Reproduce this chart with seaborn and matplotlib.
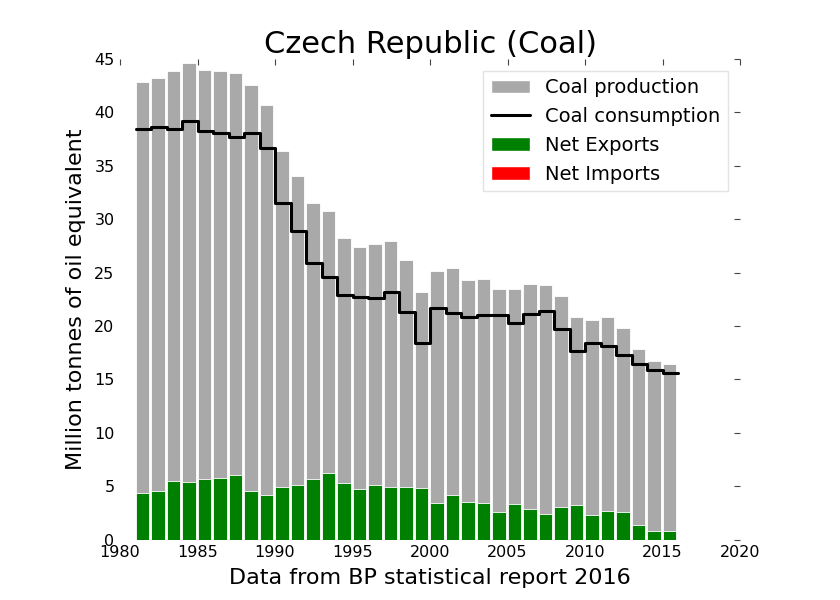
import matplotlib
matplotlib.use("Agg")
import matplotlib.pyplot as plt
import seaborn as sns
import pandas as pd
from matplotlib.patches import Patch
from matplotlib.lines import Line2D

years = list(range(1981, 2016))
production = [42.8, 43.2, 43.9, 44.6, 44.0, 43.9, 43.7, 42.6, 40.7, 36.4,
              34.0, 31.5, 30.8, 28.2, 27.4, 27.7, 28.0, 26.2, 23.2, 25.1,
              25.4, 24.3, 24.4, 23.5, 23.5, 23.9, 23.8, 22.8, 20.8, 20.6,
              20.8, 19.8, 17.8, 16.7, 16.4]
consumption = [38.4, 38.6, 38.4, 39.2, 38.3, 38.1, 37.7, 38.1, 36.7, 31.5,
               28.9, 25.9, 24.6, 22.9, 22.7, 22.6, 23.2, 21.3, 18.4, 21.7,
               21.2, 20.8, 21.05, 21.0, 20.3, 21.1, 21.4, 19.7, 17.7, 18.4,
               18.1, 17.3, 16.4, 15.85, 15.6]
net_exports = [4.4, 4.55, 5.5, 5.4, 5.7, 5.8, 6.0, 4.5, 4.2, 4.9,
               5.15, 5.65, 6.2, 5.3, 4.7, 5.1, 4.9, 4.9, 4.8, 3.4,
               4.2, 3.5, 3.4, 2.6, 3.3, 2.9, 2.4, 3.05, 3.2, 2.3,
               2.7, 2.6, 1.4, 0.8, 0.8]
net_imports = [0.0] * len(years)

x_ticks = list(range(1980, 2021, 5))
y_ticks = list(range(0, 46, 5))

title = "Czech Republic (Coal)"
xlabel = "Data from BP statistical report 2016"
ylabel = "Million tonnes of oil equivalent"
labels = ["Coal production", "Coal consumption", "Net Exports", "Net Imports"]

c_prod = "#a9a9a9"
c_exp = "#008000"
c_imp = "#ff0000"

sns.set_style("white")
plt.rcParams["font.family"] = ["DejaVu Sans"]
plt.rcParams["text.color"] = "black"
plt.rcParams["axes.labelcolor"] = "black"
plt.rcParams["xtick.color"] = "black"
plt.rcParams["ytick.color"] = "black"

df = pd.DataFrame({"year": years, "production": production,
                   "consumption": consumption, "exports": net_exports,
                   "imports": net_imports})

fig = plt.figure(figsize=(8.4, 6.0), dpi=100)
ax = fig.add_axes([120 / 840, 1 - 539.5 / 600, 620 / 840, 480.5 / 600])

ax.bar(df["year"], df["production"], width=0.9, align="edge",
       color=c_prod, edgecolor="white", linewidth=0.6)
ax.bar(df["year"], df["exports"], width=0.9, align="edge",
       color=c_exp, edgecolor="white", linewidth=0.6)
ax.bar(df["year"], df["imports"], width=0.9, align="edge",
       color=c_imp, linewidth=0)

step_df = pd.DataFrame({"year": years + [years[-1] + 1],
                        "consumption": consumption + [consumption[-1]]})
sns.lineplot(data=step_df, x="year", y="consumption", ax=ax,
             drawstyle="steps-post", color="black", linewidth=2.2)

ax.set_xlim(1980, 2020)
ax.set_ylim(0, 45)
ax.set_xticks(x_ticks)
ax.set_yticks(y_ticks)
ax.tick_params(direction="in", top=True, right=True, length=4,
               labelsize=11.5, color="#444444", width=0.8, pad=4)
for s in ax.spines.values():
    s.set_visible(False)

ax.set_title(title, fontsize=22, pad=4, color="black")
ax.set_xlabel(xlabel, fontsize=16, labelpad=6)
ax.set_ylabel(ylabel, fontsize=16, labelpad=6)

handles = [Patch(facecolor=c_prod), Line2D([0], [0], color="black", lw=2.2),
           Patch(facecolor=c_exp), Patch(facecolor=c_imp)]
leg = ax.legend(handles, labels, loc="upper right", fontsize=14,
                frameon=True, framealpha=0.8, edgecolor="#dddddd",
                fancybox=False, borderaxespad=0.6, labelspacing=0.5)

fig.savefig("out.png", dpi=100)
